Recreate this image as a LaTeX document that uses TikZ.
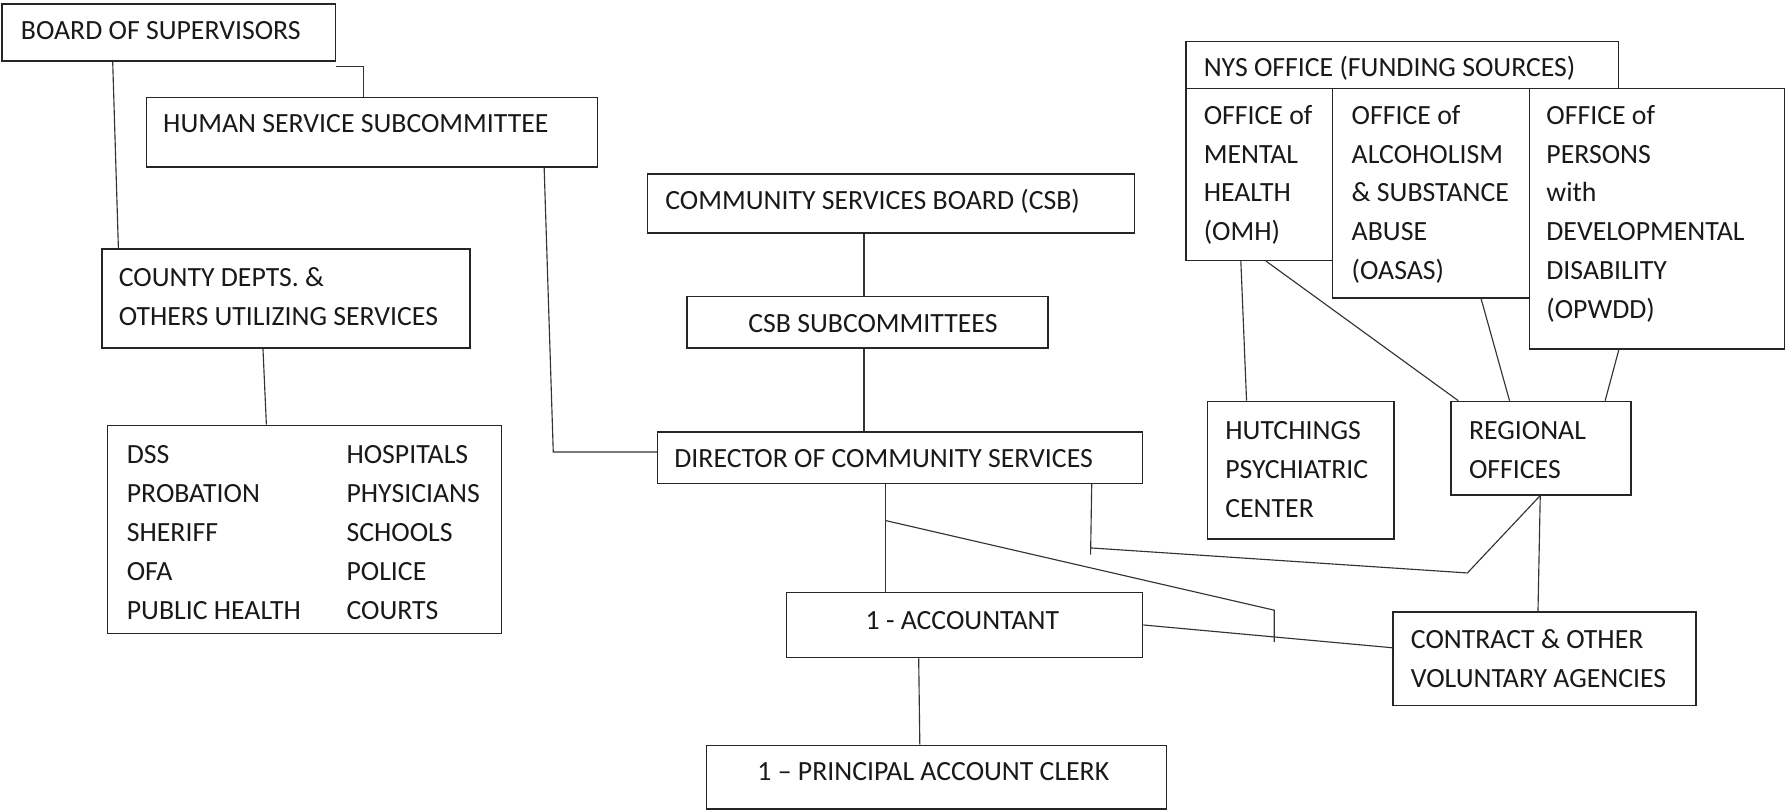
\documentclass[tikz,border=0pt]{standalone}
\usepackage{fontspec}
\setmainfont{Carlito}
\usetikzlibrary{calc}
% stacked left-aligned lines whose baseline is that of the first line
\newcommand\stackl[1]{\vtop{\halign{##\hfil\cr#1\crcr}}}
% organisation box given by its top-left and bottom-right corners
\newcommand\orgbox[5]{\node[box, minimum width={(#4-#2)*0.5pt}, minimum height={(#5-#3)*0.5pt}] (#1) at (#2,#3) {};}
\begin{document}
\begin{tikzpicture}[x=0.5pt,y=-0.5pt,
  box/.style={draw=black!85, line width=0.65pt, fill=white, inner sep=0pt, anchor=north west},
  txt/.style={anchor=base west, inner sep=0pt, font=\fontsize{12.2}{17.1}\selectfont, text=black!90},
  link/.style={draw=black!80, line width=0.5pt}]
\useasboundingbox[fill=white] (0,0) rectangle (1568,711);

% ---- boxes ----
\orgbox{board}{1}{3}{294}{53}
\orgbox{hss}{128}{85}{524}{146}
\orgbox{county}{89}{218}{412}{305}
\orgbox{list}{94}{373}{440}{556}
\orgbox{csb}{568}{152}{996}{204}
\orgbox{csbsub}{603}{260}{920}{305}
\orgbox{director}{577}{379}{1003}{424}
\orgbox{acct}{690}{520}{1003}{577}
\orgbox{pac}{620}{654}{1024}{710}
\orgbox{contract}{1223}{537}{1489}{619}
\orgbox{nys}{1041}{36}{1421}{77}
\orgbox{omh}{1041}{77}{1170}{228}
\orgbox{oasas}{1170}{77}{1343}{261}
\orgbox{opwdd}{1343}{77}{1567}{306}
\orgbox{hutch}{1060}{352}{1224}{473}
\orgbox{regional}{1274}{352}{1432}{434}

% ---- texts ----
\node[txt] (board-t) at (18,35) {BOARD OF SUPERVISORS};
\node[txt] (hss-t) at (143,116) {HUMAN SERVICE SUBCOMMITTEE};
\node[txt] (county-t) at (104,252) {\stackl{COUNTY DEPTS. \&\cr OTHERS UTILIZING SERVICES}};
\node[txt] (list-a) at (111,407) {\stackl{DSS\cr PROBATION\cr SHERIFF\cr OFA\cr PUBLIC HEALTH}};
\node[txt] (list-b) at (304,407) {\stackl{HOSPITALS\cr PHYSICIANS\cr SCHOOLS\cr POLICE\cr COURTS}};
\node[txt] (csb-t) at (584,184) {COMMUNITY SERVICES BOARD (CSB)};
\node[txt] (csbsub-t) at (657,292) {CSB SUBCOMMITTEES};
\node[txt] (director-t) at (592,411) {DIRECTOR OF COMMUNITY SERVICES};
\node[txt] (acct-t) at (760,553) {1 - ACCOUNTANT};
\node[txt] (pac-t) at (665,686) {1 – PRINCIPAL ACCOUNT CLERK};
\node[txt] (contract-t) at (1239,570) {\stackl{CONTRACT \& OTHER\cr VOLUNTARY AGENCIES}};
\node[txt] (nys-t) at (1057,67) {NYS OFFICE (FUNDING SOURCES)};
\node[txt] (omh-t) at (1057,109) {\stackl{OFFICE of\cr MENTAL\cr HEALTH\cr (OMH)}};
\node[txt] (oasas-t) at (1187,109) {\stackl{OFFICE of\cr ALCOHOLISM\cr \& SUBSTANCE\cr ABUSE\cr (OASAS)}};
\node[txt] (opwdd-t) at (1358,109) {\stackl{OFFICE of\cr PERSONS\cr with\cr DEVELOPMENTAL\cr DISABILITY\cr (OPWDD)}};
\node[txt] (hutch-t) at (1076,386) {\stackl{HUTCHINGS\cr PSYCHIATRIC\cr CENTER}};
\node[txt] (regional-t) at (1290,386) {\stackl{REGIONAL\cr OFFICES}};

% ---- connectors ----
\draw[link] ($(board.south east)+(0,4)$) -| ($(hss.north west)+(191,0)$);
\draw[link] ($(board.south west)+(98,0)$) -- ($(county.north west)+(15,0)$);
\draw[link] ($(hss.south west)+(350,0)$) -- ($(director.north west)+(-91,18)$) -- ($(director.north west)+(0,18)$);
\draw[link] ($(county.south west)+(142,0)$) -- ($(list.north west)+(140,0)$);
\draw[link] ($(csb.south west)+(191,0)$) -- ($(csbsub.north west)+(156,0)$);
\draw[link] ($(csbsub.south west)+(156,0)$) -- ($(director.north west)+(182,0)$);
\draw[link] ($(director.south west)+(201,0)$) -- ($(acct.north west)+(88,0)$);
\coordinate (dirfork) at ($(director.south west)+(201,32)$);
\coordinate (tickA) at ($(acct.north east)+(115,16)$);
\draw[link] (dirfork) -- (tickA) -- ++(0,28);
\coordinate (tickB) at ($(director.south west)+(381,56)$);
\draw[link] ($(director.south west)+(382,0)$) -- ($(tickB)+(0,6)$);
\coordinate (bendR) at ($(regional.south west)+(15,68)$);
\draw[link] (tickB) -- (bendR) -- ($(regional.south west)+(79,0)$);
\draw[link] ($(acct.north east)+(0,29)$) -- ($(contract.north west)+(0,32)$);
\draw[link] ($(acct.south west)+(117,0)$) -- ($(pac.north west)+(188,0)$);
\draw[link] ($(regional.south west)+(79,0)$) -- ($(contract.north west)+(128,0)$);
\draw[link] ($(omh.south west)+(49,0)$) -- ($(hutch.north west)+(35,0)$);
\draw[link] ($(omh.south west)+(71,0)$) -- ($(regional.north west)+(7,0)$);
\draw[link] ($(oasas.south west)+(131,0)$) -- ($(regional.north west)+(52,0)$);
\draw[link] ($(opwdd.south west)+(79,0)$) -- ($(regional.north west)+(136,0)$);
\end{tikzpicture}
\end{document}
